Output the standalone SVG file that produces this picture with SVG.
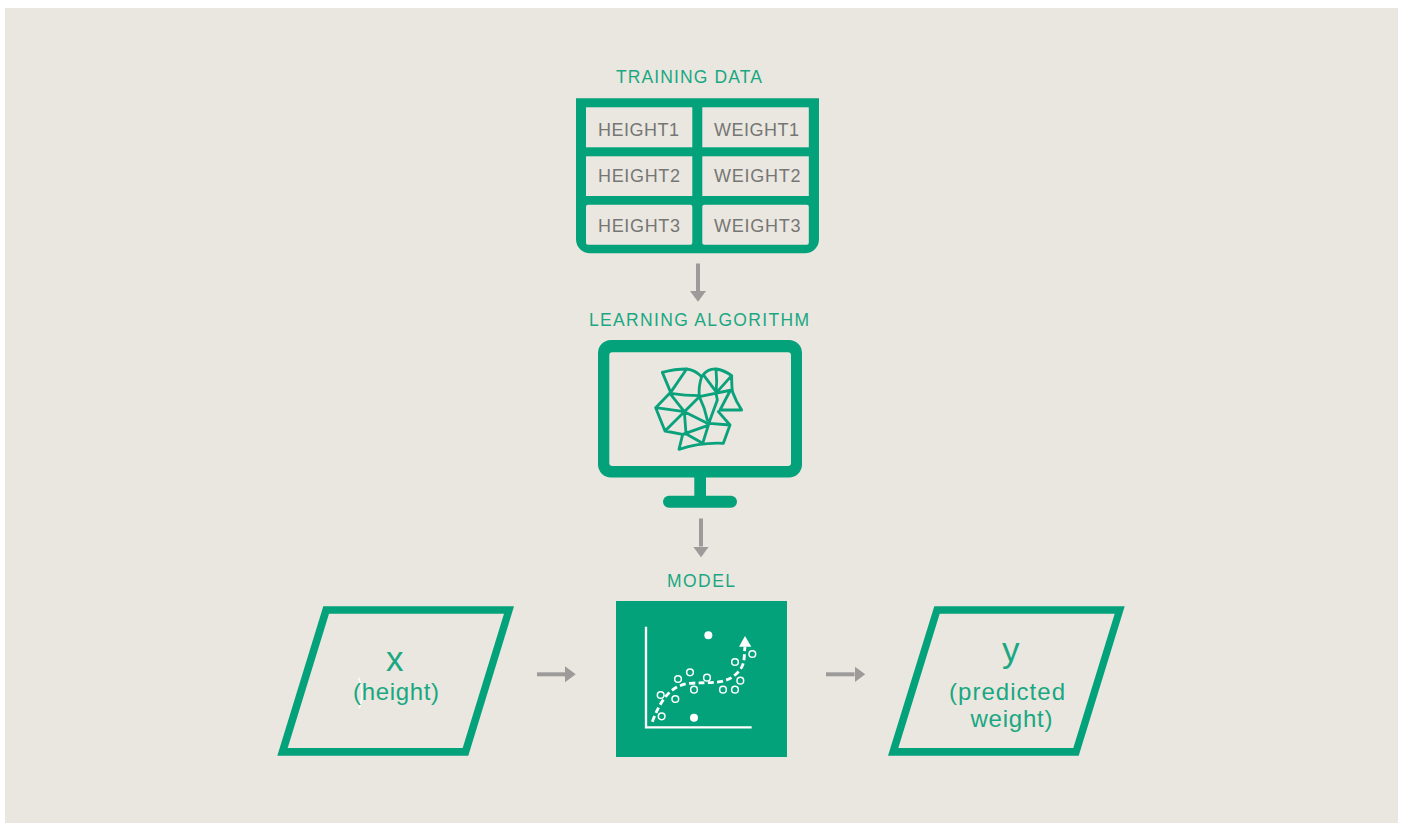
<svg xmlns="http://www.w3.org/2000/svg" width="1403" height="823" viewBox="0 0 1403 823">
<defs>
<marker id="head" markerUnits="userSpaceOnUse" markerWidth="11" markerHeight="17" refX="0" refY="8.500" orient="auto"><path d="M0 0.500L10.700 8.500L0 16.500Z" fill="#9c9b9a"/></marker>
</defs>
<style>
text{font-family:"Liberation Sans",Arial,sans-serif;fill:#1aa782}
.t{font-size:17.500px}
.c{font-size:18px;fill:#767675}
.v{font-size:35px}
.s{font-size:24px}
.g{fill:#04a27a}
.cell{fill:#eae7e0}
.conn{stroke:#9c9b9a;stroke-width:4;fill:none;marker-end:url(#head)}
.mesh{fill:none;stroke:#0aa27c;stroke-width:8.500;stroke-linejoin:round;stroke-linecap:round}
.w{fill:none;stroke:#fff;stroke-width:1.300}
</style>
<rect width="1403" height="823" fill="#fff"/>
<rect x="5" y="8" width="1393" height="815" fill="#eae7e0"/>
<g id="connectors">
<line class="conn" x1="698" y1="263.500" x2="698" y2="291"/>
<line class="conn" x1="701" y1="518.500" x2="701" y2="546.500"/>
<line class="conn" x1="537" y1="674.300" x2="565" y2="674.300"/>
<line class="conn" x1="826" y1="674.300" x2="854.500" y2="674.300"/>
</g>
<g id="training-data">
<text class="t" x="616" y="83" textLength="146">TRAINING DATA</text>
<path class="g" d="M576 98.300H819V239.300A14 14 0 0 1 805 253.300H590A14 14 0 0 1 576 239.300Z"/>
<rect class="cell" x="586" y="107.300" width="106.300" height="40"/>
<rect class="cell" x="702.300" y="107.300" width="106.500" height="40"/>
<rect class="cell" x="586" y="156.300" width="106.300" height="39.700"/>
<rect class="cell" x="702.300" y="156.300" width="106.500" height="39.700"/>
<rect class="cell" x="586" y="204.700" width="106.300" height="40" rx="2"/>
<rect class="cell" x="702.300" y="204.700" width="106.500" height="40" rx="2"/>
<text class="c" x="598" y="136" textLength="81">HEIGHT1</text>
<text class="c" x="714" y="136" textLength="85">WEIGHT1</text>
<text class="c" x="598" y="182" textLength="82">HEIGHT2</text>
<text class="c" x="714" y="182" textLength="86.500">WEIGHT2</text>
<text class="c" x="598" y="232" textLength="82">HEIGHT3</text>
<text class="c" x="714" y="232" textLength="86.500">WEIGHT3</text>
</g>
<g id="learning-algorithm">
<text class="t" x="589" y="326" textLength="220">LEARNING ALGORITHM</text>
<rect class="g" x="598" y="340" width="204" height="137.500" rx="13"/>
<rect class="cell" x="609.300" y="352.300" width="181.700" height="113.700" rx="3"/>
<rect class="g" x="694.300" y="476" width="11.700" height="21"/>
<rect class="g" x="663" y="495.700" width="74" height="12" rx="6"/>
<g transform="translate(630 355) scale(.33333)">
<path class="mesh" d="M97 52Q135 42 170 42Q195 45 215 65M97 52L122 112M170 42L122 112M122 112L77 158M122 118L163 170M122 115Q165 122 208 122M77 158L163 170M77 158L105 228M105 228L163 170M163 170L208 125M215 65Q205 95 208 125M215 65Q232 40 260 42Q285 47 305 62M258 42Q262 80 258 115L262 135L240 195M222 62L258 110M305 62L262 110M305 62Q305 100 308 112Q318 140 335 165M208 125L305 105M300 108L270 165M270 165L335 165M208 125Q225 160 232 195M163 170L232 205M163 170L168 235M105 228L158 238M158 238L232 212M158 238L147 283M147 283Q210 262 280 265M165 235L218 265M238 205L300 210M240 195L218 265M265 170L300 210M300 210L280 265"/>
</g>
</g>
<g id="model">
<text class="t" x="667" y="587" textLength="68">MODEL</text>
<rect class="g" x="616" y="601" width="171" height="156"/>
<g transform="translate(610 595) scale(.33333)">
<path fill="none" stroke="#fff" stroke-width="7" d="M108 95V397H425"/>
<path fill="none" stroke="#fff" stroke-width="8.500" stroke-dasharray="18 10" d="M127 380C150 320 180 270 240 265S340 270 375 240S400 190 405 155"/>
<path fill="#fff" d="M405 123L387 155H424Z"/>
<circle cx="295" cy="121" r="12" fill="#fff"/>
<circle cx="252" cy="368" r="12" fill="#fff"/>
<g fill="#04a27a" stroke="#fff" stroke-width="4.500">
<circle cx="155" cy="364" r="10"/><circle cx="152" cy="300" r="10"/><circle cx="196" cy="312" r="10"/><circle cx="204" cy="252" r="10"/><circle cx="240" cy="232" r="10"/><circle cx="252" cy="284" r="10"/><circle cx="291" cy="248" r="10"/><circle cx="339" cy="284" r="10"/><circle cx="375" cy="284" r="10"/><circle cx="391" cy="257" r="10"/><circle cx="375" cy="201" r="10"/><circle cx="427" cy="177" r="10"/>
</g>
</g>
</g>
<g id="input-x">
<path class="g" fill-rule="evenodd" d="M323.300 606.300H514L468.300 755.700H277.300ZM329 613.700L287.700 748H462.700L504 613.700Z"/>
<path class="w" d="M358.700 677.700Q365 693 359.300 708.300"/>
<text class="v" x="386" y="671" textLength="19">x</text>
<text class="s" x="353" y="700" textLength="86">(height)</text>
</g>
<g id="output-y">
<path class="g" fill-rule="evenodd" d="M934.300 606.300H1124.700L1078.700 755.700H888ZM939.700 613.700L898.300 748H1073.300L1114.700 613.700Z"/>
<text class="v" x="1002" y="661.500" textLength="18">y</text>
<text class="s" x="949" y="700" textLength="116">(predicted</text>
<text class="s" x="970.500" y="727" textLength="82">weight)</text>
</g>
</svg>
